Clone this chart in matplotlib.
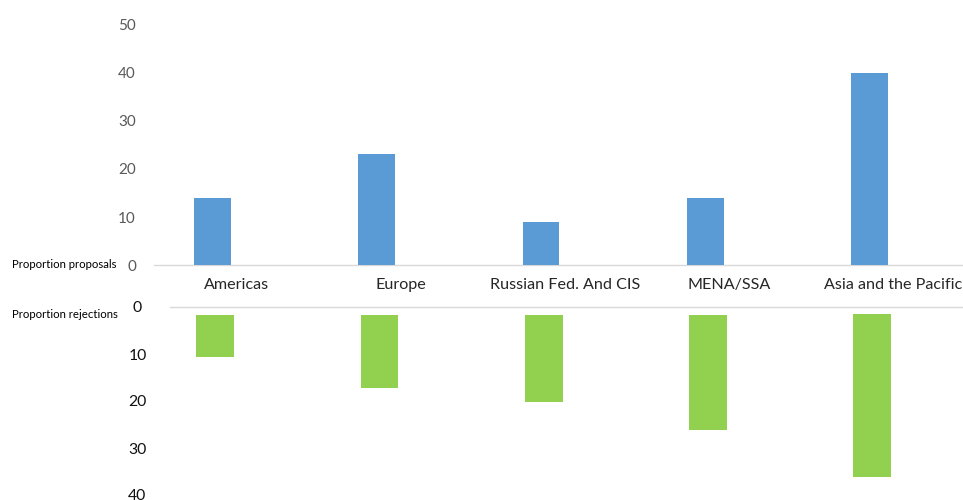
import matplotlib.pyplot as plt
import numpy as np

plt.rcParams['font.family'] = ['Lato', 'DejaVu Sans']

regions = ["Americas", "Europe", "Russian Fed. And CIS", "MENA/SSA", "Asia and the Pacific"]
proposals = [14, 23, 9, 14, 40]
rejections = [10.7, 17.2, 20.3, 26.2, 36.2]
rejectionStart = [1.8, 1.8, 1.8, 1.8, 1.4]
topTicks = [0, 10, 20, 30, 40, 50]
bottomTicks = [0, 10, 20, 30, 40]

blue = "#5B9BD5"
green = "#92D050"
lineColor = "#D9D9D9"

W, H = 963, 500
fig = plt.figure(figsize=(W / 100, H / 100), dpi=100)

# axes placed in pixel coordinates of the reference
axTop = fig.add_axes([154 / W, (H - 265.3) / H, (W - 154) / W, 241 / H])
axBot = fig.add_axes([154 / W, (H - 495) / H, (W - 154) / W, 188 / H])

x = np.arange(len(regions))
step = 164.25
left = -58.5 / step
right = (W - 212.5) / step

axTop.bar(x, proposals, width=0.223, color=blue, zorder=3)
axTop.set_xlim(left, right)
axTop.set_ylim(0, 50)
axTop.set_yticks(topTicks)
axTop.tick_params(axis="y", length=0, pad=13, labelsize=11, labelcolor="#595959")
axTop.set_xticks(x + 24 / step)
axTop.set_xticklabels(regions)
axTop.tick_params(axis="x", length=0, pad=14.3, labelsize=11.6, labelcolor="#262626")
for lbl in axTop.get_xticklabels():
    lbl.set_verticalalignment("center")
for side in ["top", "right", "left"]:
    axTop.spines[side].set_visible(False)
axTop.spines["bottom"].set_color(lineColor)
axTop.spines["bottom"].set_linewidth(1)

heights = np.array(rejections) - np.array(rejectionStart)
axBot.bar(x, heights, bottom=rejectionStart, width=0.23, color=green, zorder=3)
shift = 2.8 / step
axBot.set_xlim(left - shift, right - shift)
axBot.set_ylim(40, 0)
axBot.set_yticks(bottomTicks)
axBot.tick_params(axis="y", length=0, pad=12, labelsize=11.3, labelcolor="#111111")
for lbl in axBot.get_yticklabels():
    lbl.set_horizontalalignment("center")
axBot.set_xticks([])
for side in ["bottom", "right", "left"]:
    axBot.spines[side].set_visible(False)
axBot.spines["top"].set_color(lineColor)
axBot.spines["top"].set_linewidth(1)
axBot.spines["top"].set_bounds(left - shift + 16 / step, right - shift)

fig.text(12 / W, 1 - 264 / H, "Proportion proposals", fontsize=8.2, color="black",
         ha="left", va="center")
fig.text(12 / W, 1 - 315 / H, "Proportion rejections", fontsize=8.2, color="black",
         ha="left", va="center")

fig.savefig("out.png", dpi=100)
